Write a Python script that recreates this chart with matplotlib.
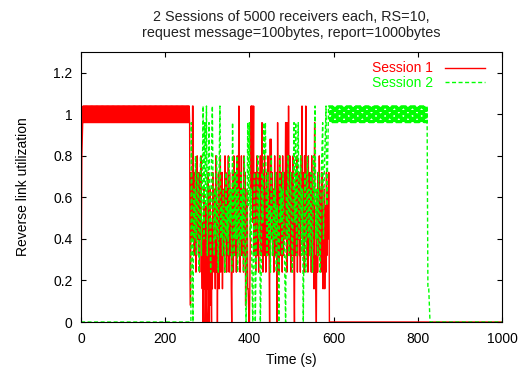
import numpy as np
import matplotlib
matplotlib.use("Agg")
import matplotlib.pyplot as plt

# ---------------- data ----------------
LEVEL = 0.08  # utilization quantum; all values below are in units of LEVEL

# ---- Session 1 ----
s1_start_t = [0, 2, 4]
s1_start = [0, 10, 12]
s1_band_t = (5, 258, 1)          # start, stop, step (s)
s1_band = [13, 12, 13, 12, 13, 12, 13, 12, 13, 12, 13, 12, 13, 12, 13, 12, 13, 12, 13, 12,
           13, 12, 13, 12, 13, 12, 13, 12, 13, 12, 13, 12, 13, 12, 13, 12, 13, 12, 13, 12,
           13, 12, 13, 12, 13, 12, 13, 12, 13, 12, 13, 12, 13, 12, 13, 12, 13, 12, 13, 12,
           13, 12, 13, 12, 13, 12, 13, 12, 13, 12, 13, 12, 13, 12, 13, 12, 13, 12, 13, 12,
           13, 12, 13, 12, 13, 12, 13, 12, 13, 12, 13, 12, 13, 12, 13, 12, 13, 12, 13, 12,
           13, 12, 13, 12, 13, 12, 13, 12, 13, 12, 13, 12, 13, 12, 13, 12, 13, 12, 13, 12,
           13, 12, 13, 12, 13, 12, 13, 12, 13, 12, 13, 12, 13, 12, 13, 12, 13, 12, 13, 12,
           13, 12, 13, 12, 13, 12, 13, 12, 13, 12, 13, 12, 13, 12, 13, 12, 13, 12, 13, 12,
           13, 12, 13, 12, 13, 12, 13, 12, 13, 12, 13, 12, 13, 12, 13, 12, 13, 12, 13, 12,
           13, 12, 13, 12, 13, 12, 13, 12, 13, 12, 13, 12, 13, 12, 13, 12, 13, 12, 13, 12,
           13, 12, 13, 12, 13, 12, 13, 12, 13, 12, 13, 12, 13, 12, 13, 12, 13, 12, 13, 12,
           13, 12, 13, 12, 13, 12, 13, 12, 13, 12, 13, 12, 13, 12, 13, 12, 13, 12, 13, 12,
           13, 12, 13, 12, 13, 12, 13, 12, 13, 12, 13, 12, 13]
s1_mixed_t = (258, 590, 1)
s1_mixed = [12, 3, 1, 6, 9, 7, 5, 13, 13, 8, 4, 6, 9, 5, 7, 3, 8, 6, 10, 5,
            7, 4, 9, 6, 3, 8, 5, 10, 7, 4, 2, 6, 0, 3, 8, 2, 5, 0, 2, 7,
            1, 0, 4, 2, 9, 6, 0, 2, 5, 8, 1, 3, 0, 6, 2, 9, 4, 7, 3, 8,
            5, 2, 10, 6, 3, 7, 0, 4, 9, 5, 2, 8, 6, 10, 3, 7, 4, 9, 2, 6,
            8, 4, 7, 3, 10, 5, 9, 6, 3, 8, 4, 7, 10, 5, 3, 9, 6, 4, 8, 2,
            0, 5, 9, 7, 3, 10, 6, 4, 8, 5, 9, 3, 7, 10, 4, 6, 8, 13, 5, 7,
            3, 9, 6, 10, 4, 7, 5, 8, 3, 10, 6, 4, 9, 1, 7, 5, 3, 8, 2, 2,
            1, 0, 0, 2, 5, 9, 13, 8, 13, 13, 6, 10, 13, 4, 8, 6, 9, 3, 7, 5,
            10, 4, 8, 6, 3, 9, 5, 7, 10, 4, 6, 8, 12, 5, 3, 9, 7, 4, 10, 6,
            8, 3, 5, 9, 7, 4, 10, 6, 8, 3, 0, 11, 11, 7, 11, 5, 9, 4, 6, 8,
            3, 7, 10, 5, 8, 4, 6, 9, 0, 12, 5, 8, 3, 7, 10, 6, 4, 9, 5, 8,
            3, 10, 6, 4, 7, 9, 5, 8, 12, 12, 6, 3, 12, 9, 5, 13, 7, 4, 10, 6,
            8, 3, 9, 5, 7, 4, 10, 6, 3, 0, 8, 5, 9, 4, 7, 10, 3, 6, 8, 5,
            9, 4, 7, 3, 10, 6, 8, 13, 5, 9, 4, 7, 3, 10, 6, 8, 13, 5, 9, 4,
            7, 3, 10, 6, 8, 4, 9, 5, 7, 3, 10, 6, 8, 4, 5, 2, 9, 12, 2, 4,
            2, 0, 5, 8, 3, 9, 6, 4, 10, 7, 5, 8, 3, 6, 9, 4, 7, 2, 6, 3,
            8, 2, 5, 7, 3, 9, 4, 6, 8, 5, 9, 9]
s1_tail_t = [590, 1000]
s1_tail = [0, 0]

# ---- Session 2 ----
s2_head_t = [0, 261]
s2_head = [0, 0]
s2_mixed_t = (262, 590, 2)
s2_mixed = [12, 6, 0, 8, 5, 10, 4, 7, 9, 3,
            6, 10, 4, 8, 13, 5, 12, 7, 13, 4,
            9, 12, 6, 3, 10, 13, 7, 4, 8, 5,
            10, 6, 3, 9, 13, 5, 7, 4, 8, 6,
            3, 9, 5, 7, 4, 10, 6, 8, 3, 12,
            7, 4, 9, 5, 10, 3, 8, 6, 4, 9,
            5, 8, 3, 10, 6, 0, 4, 12, 7, 12,
            5, 8, 3, 0, 6, 9, 0, 4, 7, 10,
            5, 8, 0, 3, 9, 6, 12, 10, 12, 7,
            4, 9, 5, 7, 3, 10, 6, 4, 8, 5,
            9, 3, 7, 5, 0, 10, 6, 8, 4, 9,
            6, 3, 0, 8, 5, 10, 4, 7, 9, 6,
            3, 8, 12, 6, 12, 4, 9, 12, 5, 7,
            10, 4, 8, 0, 6, 9, 3, 7, 10, 5,
            8, 4, 9, 6, 3, 10, 7, 13, 5, 8,
            4, 9, 6, 3, 8, 10, 12, 5, 9, 11,
            13, 7, 10, 13]
s2_band_t = (590, 823, 1)
s2_band = [13, 12, 13, 12, 13, 12, 13, 12, 13, 12, 13, 12, 13, 12, 13, 12, 13, 12, 13, 12,
           13, 12, 13, 12, 13, 12, 13, 12, 13, 12, 13, 12, 13, 12, 13, 12, 13, 12, 13, 12,
           13, 12, 13, 12, 13, 12, 13, 12, 13, 12, 13, 12, 13, 12, 13, 12, 13, 12, 13, 12,
           13, 12, 13, 12, 13, 12, 13, 12, 13, 12, 13, 12, 13, 12, 13, 12, 13, 12, 13, 12,
           13, 12, 13, 12, 13, 12, 13, 12, 13, 12, 13, 12, 13, 12, 13, 12, 13, 12, 13, 12,
           13, 12, 13, 12, 13, 12, 13, 12, 13, 12, 13, 12, 13, 12, 13, 12, 13, 12, 13, 12,
           13, 12, 13, 12, 13, 12, 13, 12, 13, 12, 13, 12, 13, 12, 13, 12, 13, 12, 13, 12,
           13, 12, 13, 12, 13, 12, 13, 12, 13, 12, 13, 12, 13, 12, 13, 12, 13, 12, 13, 12,
           13, 12, 13, 12, 13, 12, 13, 12, 13, 12, 13, 12, 13, 12, 13, 12, 13, 12, 13, 12,
           13, 12, 13, 12, 13, 12, 13, 12, 13, 12, 13, 12, 13, 12, 13, 12, 13, 12, 13, 12,
           13, 12, 13, 12, 13, 12, 13, 12, 13, 12, 13, 12, 13, 12, 13, 12, 13, 12, 13, 12,
           13, 12, 13, 12, 13, 12, 13, 12, 13, 12, 13, 12, 13]
s2_tail_t = [824, 826, 829, 1000]
s2_tail = [2, 2, 0, 0]

series_labels = ["Session 1", "Session 2"]
x_ticks = [0, 200, 400, 600, 800, 1000]
y_ticks = [0, 0.2, 0.4, 0.6, 0.8, 1, 1.2]
y_tick_labels = ["0", "0.2", "0.4", "0.6", "0.8", "1", "1.2"]
title_text = "2 Sessions of 5000 receivers each, RS=10,\nrequest message=100bytes, report=1000bytes"


def seg_time(spec, n):
    start, stop, step = spec
    return np.arange(start, stop, step)[:n]


def build(parts):
    ts, vs = [], []
    for t, v in parts:
        t = np.asarray(t, dtype=float)
        m = min(len(t), len(v))
        ts.append(t[:m])
        vs.append(np.asarray(v[:m], dtype=float))
    return np.concatenate(ts), np.concatenate(vs) * LEVEL


t1, s1 = build([(s1_start_t, s1_start),
                (seg_time(s1_band_t, len(s1_band)), s1_band),
                (seg_time(s1_mixed_t, len(s1_mixed)), s1_mixed),
                (s1_tail_t, s1_tail)])
t2, s2 = build([(s2_head_t, s2_head),
                (seg_time(s2_mixed_t, len(s2_mixed)), s2_mixed),
                (seg_time(s2_band_t, len(s2_band)), s2_band),
                (s2_tail_t, s2_tail)])

# ---------------- plot ----------------
plt.rcParams['font.family'] = ['Liberation Sans', 'DejaVu Sans']
plt.rcParams['lines.scale_dashes'] = False
fs = 10

fig = plt.figure(figsize=(5.32, 3.68), dpi=100)
ax = fig.add_axes([81/532, 1 - 322/368, 421/532, 270/368])

ax.plot(t1, s1, color='#ff0000', lw=1.0, label=series_labels[0])
ax.plot(t2, s2, color='#00ff00', lw=1.0, linestyle=(0, (2.9, 1.8)),
        label=series_labels[1])

ax.set_xlim(0, 1000)
ax.set_ylim(0, 1.3)
ax.set_xticks(x_ticks)
ax.set_xticklabels([str(v) for v in x_ticks])
ax.set_yticks(y_ticks)
ax.set_yticklabels(y_tick_labels)
ax.tick_params(direction='in', top=True, right=True, length=3.6, width=0.8,
               labelsize=fs, colors='black')
ax.tick_params(axis='x', pad=7)
ax.tick_params(axis='y', pad=6)
for sp in ax.spines.values():
    sp.set_linewidth(0.8)

ax.set_xlabel("Time (s)", fontsize=fs, labelpad=5)
ax.set_ylabel("Reverse link utilization", fontsize=fs, labelpad=17)
ax.set_title(title_text, fontsize=10.4, pad=11, color='#222222')

leg = ax.legend(loc='upper right', bbox_to_anchor=(0.96, 0.965), frameon=False,
                markerfirst=False, labelcolor='linecolor', fontsize=fs,
                handlelength=2.9, handletextpad=0.85, labelspacing=0.05,
                borderpad=0, borderaxespad=0)

fig.savefig("out.png", dpi=100)
